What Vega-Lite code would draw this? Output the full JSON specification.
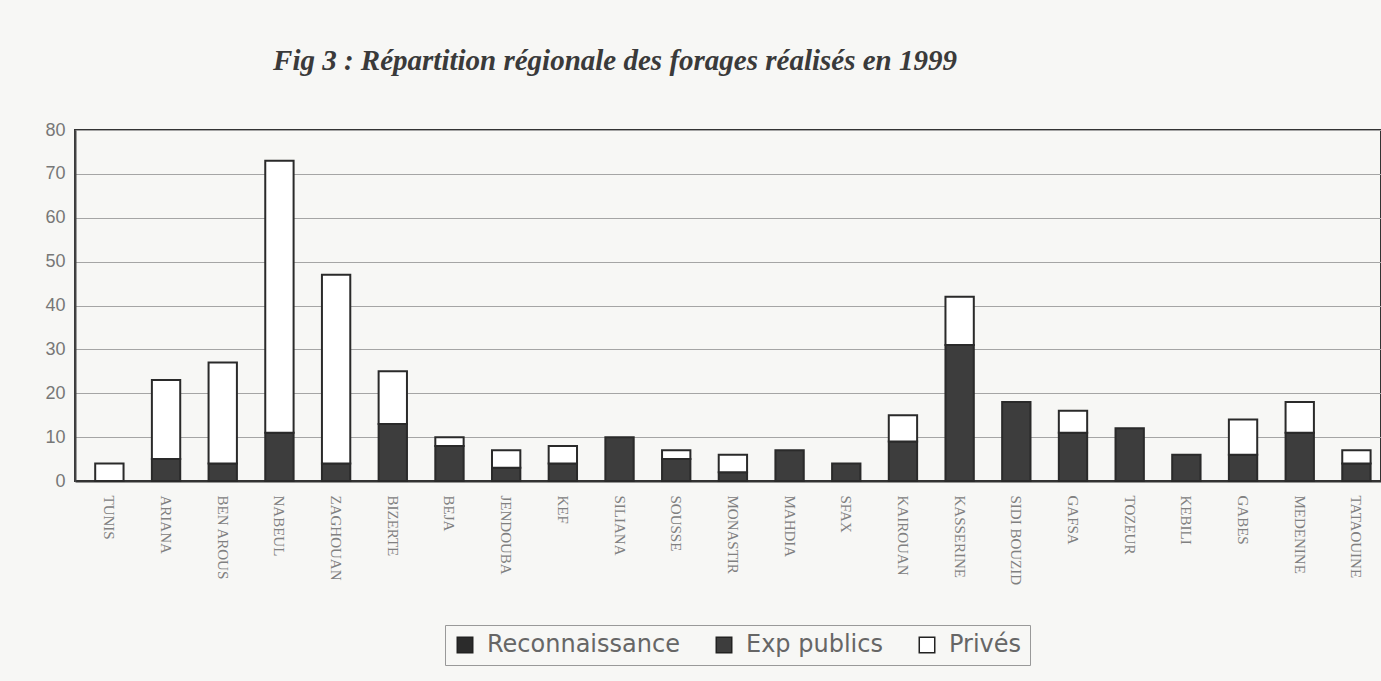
{
  "$schema": "https://vega.github.io/schema/vega-lite/v6.json",
  "width": 1306,
  "height": 351,
  "autosize": {"type": "none"},
  "padding": {"left": 75, "top": 130, "right": 0, "bottom": 200},
  "background": "#f7f7f5",
  "title": {
    "text": "Fig 3 :  Répartition régionale des forages réalisés en 1999",
    "font": "Liberation Serif",
    "fontStyle": "italic",
    "fontWeight": "bold",
    "fontSize": 29,
    "color": "#3a3a3a",
    "anchor": "middle",
    "frame": "group",
    "dx": -113,
    "offset": 45
  },
  "data": {
    "values": [
      {"region": "TUNIS", "type": "Privés", "value": 4},
      {"region": "ARIANA", "type": "Exp publics", "value": 5},
      {"region": "ARIANA", "type": "Privés", "value": 18},
      {"region": "BEN AROUS", "type": "Exp publics", "value": 4},
      {"region": "BEN AROUS", "type": "Privés", "value": 23},
      {"region": "NABEUL", "type": "Exp publics", "value": 11},
      {"region": "NABEUL", "type": "Privés", "value": 62},
      {"region": "ZAGHOUAN", "type": "Exp publics", "value": 4},
      {"region": "ZAGHOUAN", "type": "Privés", "value": 43},
      {"region": "BIZERTE", "type": "Exp publics", "value": 13},
      {"region": "BIZERTE", "type": "Privés", "value": 12},
      {"region": "BEJA", "type": "Exp publics", "value": 8},
      {"region": "BEJA", "type": "Privés", "value": 2},
      {"region": "JENDOUBA", "type": "Exp publics", "value": 3},
      {"region": "JENDOUBA", "type": "Privés", "value": 4},
      {"region": "KEF", "type": "Exp publics", "value": 4},
      {"region": "KEF", "type": "Privés", "value": 4},
      {"region": "SILIANA", "type": "Exp publics", "value": 10},
      {"region": "SOUSSE", "type": "Exp publics", "value": 5},
      {"region": "SOUSSE", "type": "Privés", "value": 2},
      {"region": "MONASTIR", "type": "Exp publics", "value": 2},
      {"region": "MONASTIR", "type": "Privés", "value": 4},
      {"region": "MAHDIA", "type": "Exp publics", "value": 7},
      {"region": "SFAX", "type": "Exp publics", "value": 4},
      {"region": "KAIROUAN", "type": "Exp publics", "value": 9},
      {"region": "KAIROUAN", "type": "Privés", "value": 6},
      {"region": "KASSERINE", "type": "Exp publics", "value": 31},
      {"region": "KASSERINE", "type": "Privés", "value": 11},
      {"region": "SIDI BOUZID", "type": "Exp publics", "value": 18},
      {"region": "GAFSA", "type": "Exp publics", "value": 11},
      {"region": "GAFSA", "type": "Privés", "value": 5},
      {"region": "TOZEUR", "type": "Exp publics", "value": 12},
      {"region": "KEBILI", "type": "Exp publics", "value": 6},
      {"region": "GABES", "type": "Exp publics", "value": 6},
      {"region": "GABES", "type": "Privés", "value": 8},
      {"region": "MEDENINE", "type": "Exp publics", "value": 11},
      {"region": "MEDENINE", "type": "Privés", "value": 7},
      {"region": "TATAOUINE", "type": "Exp publics", "value": 4},
      {"region": "TATAOUINE", "type": "Privés", "value": 3}
    ]
  },
  "mark": {"type": "bar", "stroke": "#2a2a2a", "strokeWidth": 2},
  "encoding": {
    "x": {
      "field": "region",
      "type": "nominal",
      "sort": ["TUNIS","ARIANA","BEN AROUS","NABEUL","ZAGHOUAN","BIZERTE","BEJA","JENDOUBA","KEF","SILIANA","SOUSSE","MONASTIR","MAHDIA","SFAX","KAIROUAN","KASSERINE","SIDI BOUZID","GAFSA","TOZEUR","KEBILI","GABES","MEDENINE","TATAOUINE"],
      "scale": {"paddingInner": 0.5, "paddingOuter": 0.27, "align": 0.66},
      "axis": {
        "title": null,
        "labelAngle": 90,
        "labelFont": "Liberation Serif",
        "labelFontSize": 15,
        "labelColor": "#808080",
        "labelPadding": 14,
        "ticks": false,
        "domainColor": "#333",
        "domainWidth": 2
      }
    },
    "y": {
      "field": "value",
      "type": "quantitative",
      "aggregate": "sum",
      "scale": {"domain": [0, 80], "nice": false},
      "axis": {
        "title": null,
        "values": [0,10,20,30,40,50,60,70,80],
        "labelFont": "Liberation Sans",
        "labelFontSize": 18,
        "labelColor": "#777",
        "labelPadding": 10,
        "ticks": false,
        "gridColor": "#a5a5a5",
        "gridWidth": 1,
        "domainColor": "#444",
        "domainWidth": 2
      }
    },
    "color": {
      "field": "type",
      "type": "nominal",
      "scale": {
        "domain": ["Reconnaissance", "Exp publics", "Privés"],
        "range": ["#2b2b2b", "#3d3d3d", "#ffffff"]
      },
      "legend": {
        "title": null,
        "orient": "none",
        "direction": "horizontal",
        "legendX": 370,
        "legendY": 495,
        "labelFont": "DejaVu Sans",
        "labelFontSize": 24,
        "labelLimit": 400,
        "labelColor": "#666",
        "symbolType": "square",
        "symbolSize": 240,
        "symbolStrokeColor": "#222",
        "symbolStrokeWidth": 1.5,
        "strokeColor": "#999",
        "padding": 8,
        "columnPadding": 32,
        "labelOffset": 10
      }
    },
    "order": {"field": "type", "sort": "ascending"}
  },
  "config": {
    "view": {"stroke": "#333", "strokeWidth": 2}
  }
}
